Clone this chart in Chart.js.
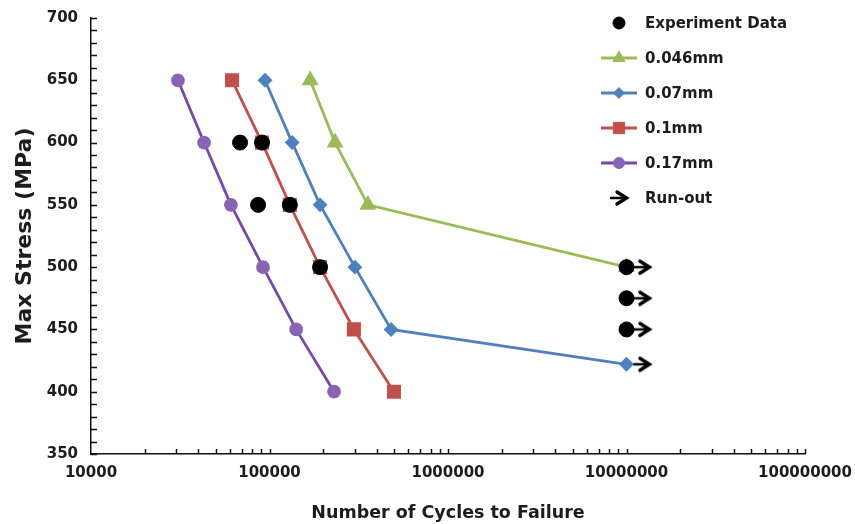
<!DOCTYPE html>
<html>
<head>
<meta charset="utf-8">
<title>S-N curve</title>
<script src="https://cdn.jsdelivr.net/npm/chart.js@4/dist/chart.umd.min.js"></script>
<style>
  html, body { margin: 0; padding: 0; background: #fff; }
  #wrap { width: 855px; height: 524px; }
</style>
</head>
<body>
<div id="wrap"><canvas id="sn-chart" width="855" height="524"></canvas></div>
<script>
// --- data ---
const seriesNames = ['Experiment Data', '0.046mm', '0.07mm', '0.1mm', '0.17mm', 'Run-out'];

const expCycles = [68400, 90800, 86300, 130000, 192000, 10000000, 10000000, 10000000];
const expStress = [600, 600, 550, 550, 500, 500, 475, 450];

const cycles046 = [169000, 233000, 356000, 10000000];
const stress046 = [650, 600, 550, 500];

const cycles007 = [94400, 134000, 192000, 301000, 480000, 10000000];
const stress007 = [650, 600, 550, 500, 450, 422];

const cycles01 = [61700, 90800, 130000, 192000, 297000, 498000];
const stress01 = [650, 600, 550, 500, 450, 400];

const cycles017 = [30700, 43000, 60800, 92000, 141000, 230000];
const stress017 = [650, 600, 550, 500, 450, 400];

const runoutCycles = [12200000, 12200000, 12200000, 12200000];
const runoutStress = [500, 475, 450, 422];

const xTickValues = [10000, 100000, 1000000, 10000000, 100000000];

const FONT = "'DejaVu Sans', sans-serif";
const TEXT = '#1c1c1c';

const toPoints = (xs, ys) => xs.map((x, i) => ({ x: x, y: ys[i] }));

// run-out arrow marker
function makeArrow() {
  const c = document.createElement('canvas');
  c.width = 22; c.height = 18;
  const g = c.getContext('2d');
  g.strokeStyle = '#000';
  g.lineCap = 'round';
  g.lineJoin = 'miter';
  g.lineWidth = 2.4;
  g.beginPath();
  g.moveTo(3, 9); g.lineTo(18, 9);
  g.stroke();
  g.lineWidth = 3.4;
  g.beginPath();
  g.moveTo(9, 3); g.lineTo(18.5, 9); g.lineTo(9, 15);
  g.stroke();
  return c;
}
const arrow = makeArrow();

// axis tick marks drawn inside the plot, like the original
const innerTicks = {
  id: 'innerTicks',
  afterDraw(chart) {
    const { ctx, chartArea } = chart;
    const xs = chart.scales.x, ys = chart.scales.y;
    ctx.save();
    ctx.strokeStyle = '#111';
    ctx.lineWidth = 1.5;
    ctx.beginPath();
    for (let v = 350; v <= 700; v += 10) {
      const py = Math.round(ys.getPixelForValue(v)) + 0.5;
      ctx.moveTo(chartArea.left, py);
      ctx.lineTo(chartArea.left + 6, py);
    }
    for (let e = 4; e < 8; e++) {
      for (let m = 1; m <= 10; m++) {
        if (m === 1 && e === 4) continue;
        const px = Math.round(xs.getPixelForValue(m * Math.pow(10, e))) + 0.5;
        ctx.moveTo(px, chartArea.bottom);
        ctx.lineTo(px, chartArea.bottom - 5);
      }
    }
    ctx.stroke();
    ctx.restore();
  }
};

// legend drawn inside the plot (top right)
const insideLegend = {
  id: 'insideLegend',
  afterDraw(chart) {
    const { ctx } = chart;
    const x0 = 601, x1 = 637, xm = 619, xt = 645;
    let y = 23;
    ctx.save();
    chart.data.datasets.forEach(ds => {
      if (ds.showLine) {
        ctx.strokeStyle = ds.borderColor;
        ctx.lineWidth = ds.borderWidth;
        ctx.beginPath();
        ctx.moveTo(x0, y); ctx.lineTo(x1, y);
        ctx.stroke();
      }
      const opts = {
        pointStyle: ds.pointStyle,
        radius: ds.legendRadius || ds.pointRadius,
        rotation: 0,
        borderWidth: 1
      };
      ctx.fillStyle = ds.pointBackgroundColor;
      ctx.strokeStyle = ds.pointBorderColor;
      ctx.lineWidth = 1;
      Chart.helpers.drawPoint(ctx, opts, xm, y);
      ctx.fillStyle = TEXT;
      ctx.font = 'bold 15px ' + FONT;
      ctx.textBaseline = 'middle';
      ctx.textAlign = 'left';
      ctx.fillText(ds.label, xt, y + 1);
      y += 35;
    });
    ctx.restore();
  }
};

const ctx = document.getElementById('sn-chart').getContext('2d');

new Chart(ctx, {
  type: 'scatter',
  data: {
    datasets: [
      {
        label: seriesNames[0],
        data: toPoints(expCycles, expStress),
        showLine: false,
        pointStyle: 'circle',
        pointRadius: 7.5,
        legendRadius: 6,
        pointBackgroundColor: '#000',
        pointBorderColor: '#000',
        borderColor: '#000'
      },
      {
        label: seriesNames[1],
        data: toPoints(cycles046, stress046),
        showLine: true,
        borderColor: '#9bbb59',
        borderWidth: 2.8,
        pointStyle: 'triangle',
        pointRadius: 7,
        pointBackgroundColor: '#9bbb59',
        pointBorderColor: '#9bbb59'
      },
      {
        label: seriesNames[2],
        data: toPoints(cycles007, stress007),
        showLine: true,
        borderColor: '#4f81bd',
        borderWidth: 2.8,
        pointStyle: 'rectRot',
        pointRadius: 5.5,
        pointBackgroundColor: '#4f81bd',
        pointBorderColor: '#4f81bd'
      },
      {
        label: seriesNames[3],
        data: toPoints(cycles01, stress01),
        showLine: true,
        borderColor: '#c0504d',
        borderWidth: 2.8,
        pointStyle: 'rect',
        pointRadius: 8,
        pointBackgroundColor: '#c0504d',
        pointBorderColor: '#c0504d'
      },
      {
        label: seriesNames[4],
        data: toPoints(cycles017, stress017),
        showLine: true,
        borderColor: '#7549aa',
        borderWidth: 2.8,
        pointStyle: 'circle',
        pointRadius: 5.5,
        pointBackgroundColor: '#8a64b4',
        pointBorderColor: '#8a64b4'
      },
      {
        label: seriesNames[5],
        data: toPoints(runoutCycles, runoutStress),
        showLine: false,
        pointStyle: arrow,
        pointRadius: 9,
        pointBackgroundColor: '#000',
        pointBorderColor: '#000',
        borderColor: '#000'
      }
    ]
  },
  options: {
    responsive: false,
    animation: false,
    layout: { padding: { top: 18, right: 50, left: 0, bottom: 0 } },
    plugins: {
      legend: { display: false },
      tooltip: { enabled: false }
    },
    scales: {
      x: {
        type: 'logarithmic',
        min: 10000,
        max: 100000000,
        afterBuildTicks(scale) {
          scale.ticks = xTickValues.map(v => ({ value: v }));
        },
        afterFit(scale) {
          scale.height = 70;
          scale.paddingRight = 50;
        },
        ticks: {
          autoSkip: false,
          maxRotation: 0,
          padding: 10,
          color: TEXT,
          font: { family: FONT, size: 15, weight: 'bold' },
          callback: v => String(v)
        },
        grid: { display: false, drawTicks: false },
        border: { display: true, color: '#111', width: 1.5 },
        title: {
          display: true,
          text: 'Number of Cycles to Failure',
          color: TEXT,
          padding: { top: 0, bottom: 0 },
          font: { family: FONT, size: 17.5, weight: 'bold' }
        }
      },
      y: {
        min: 350,
        max: 700,
        afterFit(scale) {
          scale.width = 91;
          scale.paddingTop = 0;
          scale.paddingBottom = 0;
        },
        ticks: {
          stepSize: 50,
          padding: 13,
          color: TEXT,
          font: { family: FONT, size: 15, weight: 'bold' }
        },
        grid: { display: false, drawTicks: false },
        border: { display: true, color: '#111', width: 1.5 },
        title: {
          display: true,
          text: 'Max Stress (MPa)',
          color: TEXT,
          padding: { top: 12, bottom: 0 },
          font: { family: FONT, size: 22, weight: 'bold' }
        }
      }
    }
  },
  plugins: [innerTicks, insideLegend]
});
</script>
</body>
</html>
